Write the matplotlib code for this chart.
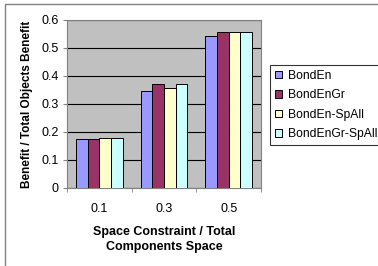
import matplotlib.pyplot as plt
import numpy as np
from matplotlib.patches import Rectangle

plt.rcParams['font.family'] = ['Liberation Sans', 'DejaVu Sans']

# data
categories = ["0.1", "0.3", "0.5"]
series_names = ["BondEn", "BondEnGr", "BondEn-SpAll", "BondEnGr-SpAll"]
bond_en = [0.175, 0.345, 0.543]
bond_en_gr = [0.175, 0.370, 0.558]
bond_en_spall = [0.177, 0.357, 0.558]
bond_en_gr_spall = [0.177, 0.370, 0.558]
y_ticks = [0, 0.1, 0.2, 0.3, 0.4, 0.5, 0.6]

colors = ["#9999FF", "#993366", "#FFFFCC", "#CCFFFF"]
series = [bond_en, bond_en_gr, bond_en_spall, bond_en_gr_spall]

W, H = 378, 266
fig = plt.figure(figsize=(W / 100, H / 100), dpi=100)
fig.patch.set_facecolor("white")
# chart frame (only left/top edges fall inside the image)
fig.patches.append(Rectangle((5 / W, -0.1), 1.2, 1 - 4 / H + 0.1,
                             transform=fig.transFigure, fill=False,
                             edgecolor="#808080", lw=1.0))

ax = fig.add_axes([67 / W, 1 - 188 / H, 194 / W, 168 / H])
ax.set_facecolor("#C0C0C0")

x = np.arange(len(categories))
bw = 0.18
for i, (vals, c, name) in enumerate(zip(series, colors, series_names)):
    ax.bar(x + (i - 1.5) * bw, vals, bw, color=c, edgecolor="black",
           linewidth=0.7, label=name, zorder=3)

ax.set_xlim(-0.5, len(categories) - 0.5)
ax.set_ylim(0, 0.6)
ax.set_yticks(y_ticks)
ax.set_yticklabels([f"{v:g}" for v in y_ticks], fontsize=9)
ax.yaxis.grid(True, color="black", lw=0.8, zorder=1)
ax.set_axisbelow(True)

# category labels centered, tick marks between categories
ax.set_xticks(x)
ax.set_xticklabels(categories, fontsize=9)
ax.tick_params(axis="x", length=0, pad=11)
ax.set_xticks(np.arange(len(categories) + 1) - 0.5, minor=True)
ax.tick_params(axis="x", which="minor", length=3, color="#808080")
ax.tick_params(axis="y", length=3, color="#808080", pad=3)

for s in ax.spines.values():
    s.set_color("#808080")

ax.set_ylabel("Benefit / Total Objects Benefit", fontsize=8.5,
              fontweight="bold", labelpad=6)
ax.set_xlabel("Space Constraint / Total\nComponents Space", fontsize=9,
              fontweight="bold", labelpad=8, linespacing=1.25)

leg = fig.legend(loc="upper left", bbox_to_anchor=(270 / W, 1 - 65 / H),
                 fontsize=8.7, frameon=True, fancybox=False, borderpad=0.4,
                 handlelength=0.6, handleheight=0.6, handletextpad=0.5,
                 labelspacing=0.62, borderaxespad=0)
leg.get_frame().set_edgecolor("black")
leg.get_frame().set_linewidth(0.8)

fig.savefig("out.png", dpi=100)
